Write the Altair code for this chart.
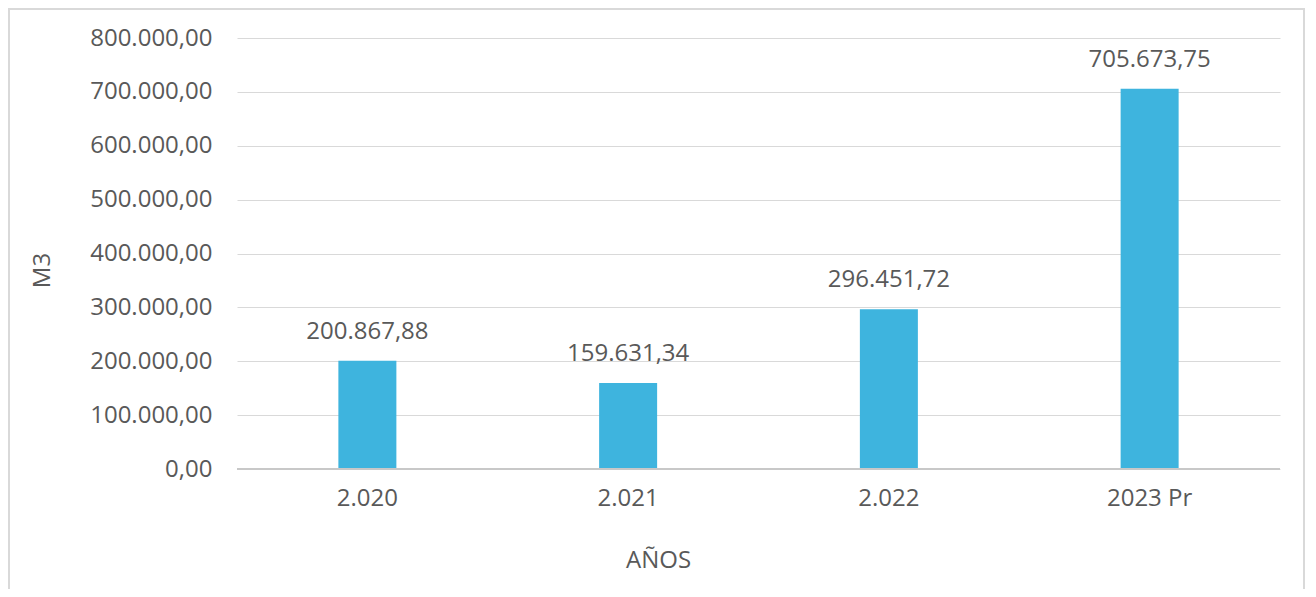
import altair as alt
import pandas as pd

years = ["2.020", "2.021", "2.022", "2023 Pr"]
values = [200867.88, 159631.34, 296451.72, 705673.75]
y_ticks = [0, 100000, 200000, 300000, 400000, 500000, 600000, 700000, 800000]


def eu(v):
    return f"{v:,.2f}".replace(",", "X").replace(".", ",").replace("X", ".")


df = pd.DataFrame({"year": years, "value": values, "label": [eu(v) for v in values]})

FONT = "Open Sans"
TXT = "#595959"
FS = 24
W, H = 1043, 431

x = alt.X("year:N", sort=years, title="AÑOS",
          scale=alt.Scale(paddingInner=0, paddingOuter=0),
          axis=alt.Axis(labelAngle=0, labelPadding=17, ticks=False, domain=False,
                        labelFontSize=FS, titleFontSize=FS,
                        titleX=421, titleY=91, titleBaseline="middle", titleAlign="center",
                        labelColor=TXT, titleColor=TXT, titleFontWeight="normal",
                        labelFont=FONT, titleFont=FONT, grid=False))
y = alt.Y("value:Q", title="M3",
          scale=alt.Scale(domain=[0, 800000], nice=False),
          axis=alt.Axis(values=y_ticks, ticks=False, domain=False,
                        labelExpr="join(split(join(split(join(split(format(datum.value, ',.2f'), ','), '#'), '.'), ','), '#'), '.')",
                        labelPadding=25, labelFontSize=FS, titleFontSize=FS,
                        titleX=-195, titleY=232, titleBaseline="middle", titleAlign="center",
                        labelColor=TXT, titleColor=TXT,
                        titleFontWeight="normal", labelFont=FONT, titleFont=FONT,
                        gridColor="#d9d9d9", gridWidth=1.2))

base = alt.Chart(df)

bars = base.mark_bar(size=58, color="#3EB4DE").encode(x=x, y=y)
texts = base.mark_text(baseline="bottom", dy=-17, fontSize=FS, font=FONT, color=TXT).encode(
    x=alt.X("year:N", sort=years), y="value:Q", text="label:N")
zero = base.mark_rule(color="#c8c8c8", strokeWidth=2).encode(
    y=alt.datum(0), x=alt.value(0), x2=alt.value(W))
frame = base.mark_rect(fill=None, stroke="#d9d9d9", strokeWidth=2).encode(
    x=alt.value(-228), x2=alt.value(1067), y=alt.value(-29), y2=alt.value(600))

chart = alt.layer(frame, bars, zero, texts).properties(
    width=W, height=H,
    autosize=alt.AutoSizeParams(type="none"),
    padding={"left": 229, "top": 30, "right": 28, "bottom": 120},
).configure_view(stroke=None)

chart.save("out.html", embed_options={"renderer": "svg", "actions": False})
